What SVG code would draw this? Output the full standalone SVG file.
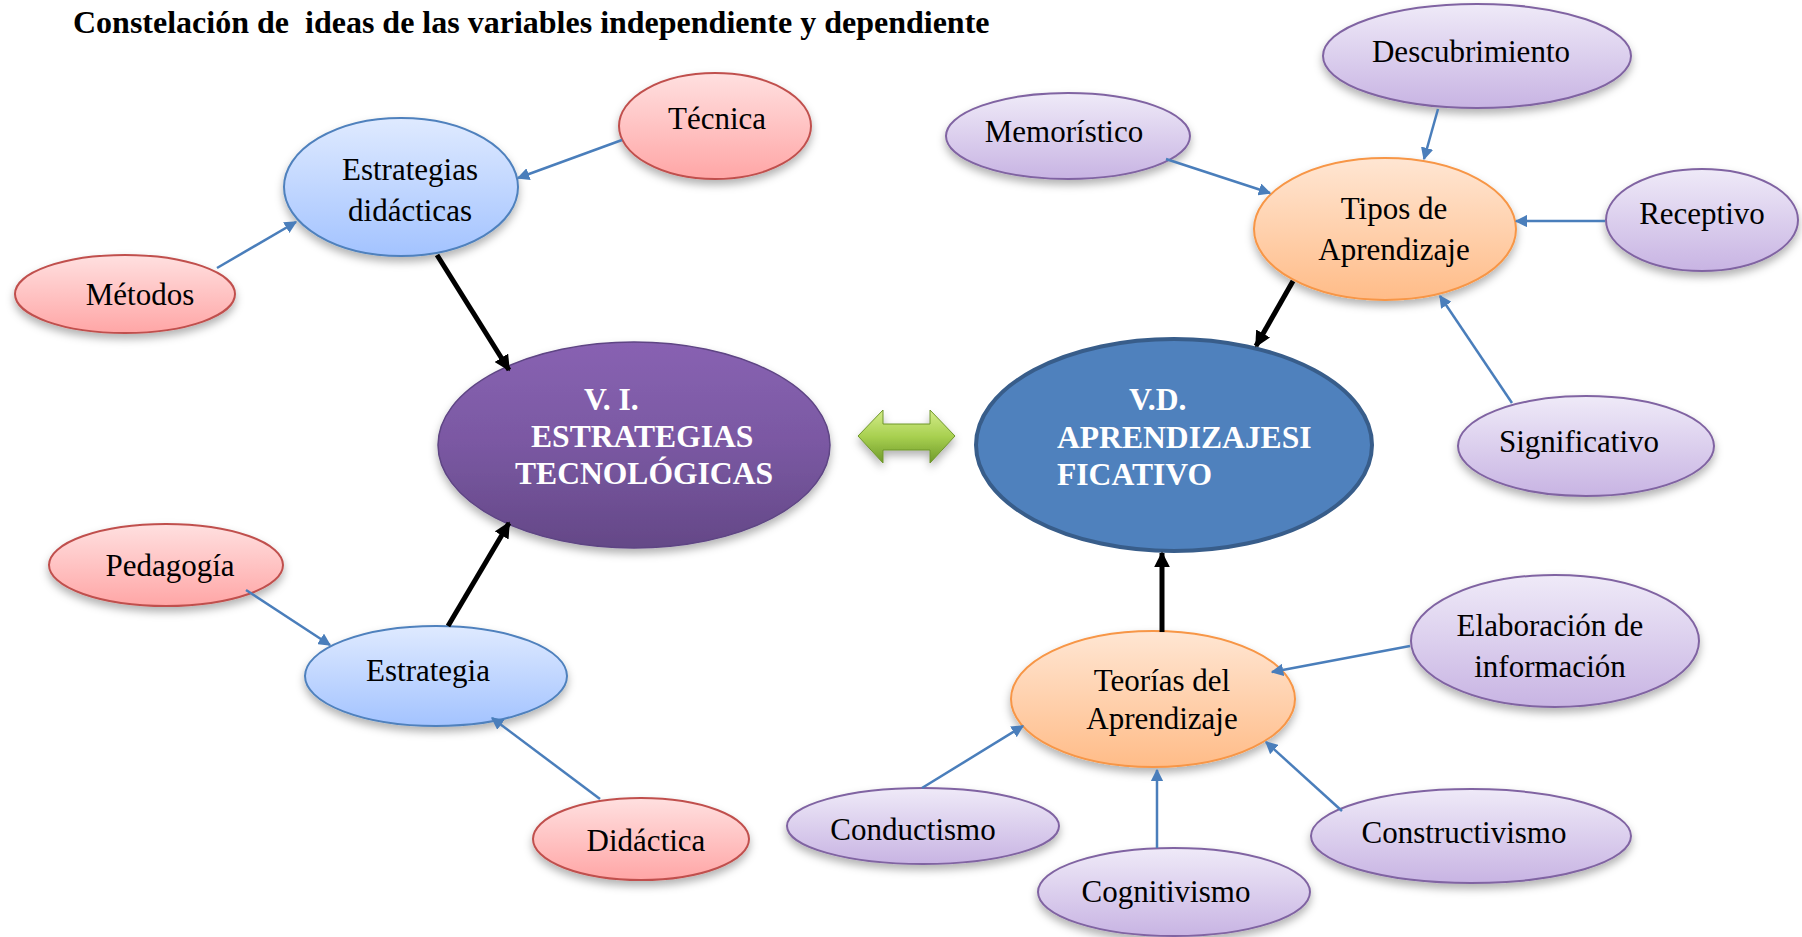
<svg xmlns="http://www.w3.org/2000/svg" width="1802" height="937" viewBox="0 0 1802 937">
<defs>
<linearGradient id="gRed" x1="0" y1="0" x2="0" y2="1"><stop offset="0" stop-color="#FFE0E0"/><stop offset="1" stop-color="#FFA6A6"/></linearGradient>
<linearGradient id="gBlue" x1="0" y1="0" x2="0" y2="1"><stop offset="0" stop-color="#DFEAFF"/><stop offset="1" stop-color="#A3C3FF"/></linearGradient>
<linearGradient id="gPur" x1="0" y1="0" x2="0" y2="1"><stop offset="0" stop-color="#EFEAF8"/><stop offset="1" stop-color="#C8B4E3"/></linearGradient>
<linearGradient id="gOr" x1="0" y1="0" x2="0" y2="1"><stop offset="0" stop-color="#FFE6D3"/><stop offset="1" stop-color="#FFBC88"/></linearGradient>
<linearGradient id="gVI" x1="0" y1="0" x2="0" y2="1"><stop offset="0" stop-color="#8862B2"/><stop offset="0.5" stop-color="#7A58A2"/><stop offset="1" stop-color="#644887"/></linearGradient>
<linearGradient id="gGreen" x1="0" y1="0" x2="0" y2="1"><stop offset="0" stop-color="#D4EC8A"/><stop offset="0.5" stop-color="#A8D050"/><stop offset="1" stop-color="#6F9A2A"/></linearGradient>
<filter id="sh" x="-20%" y="-20%" width="140%" height="150%"><feDropShadow dx="0" dy="5" stdDeviation="4" flood-color="#000" flood-opacity="0.3"/></filter>
<marker id="ab" viewBox="0 0 10 10" refX="9" refY="5" markerWidth="5" markerHeight="5" orient="auto" markerUnits="strokeWidth"><path d="M0,0 L10,5 L0,10 z" fill="#4A7EBB"/></marker>
<marker id="ak" viewBox="0 0 10 10" refX="9" refY="5" markerWidth="3.2" markerHeight="3.2" orient="auto" markerUnits="strokeWidth"><path d="M0,0 L10,5 L0,10 z" fill="#000"/></marker>
</defs>
<style>
text{font-family:"Liberation Serif","Times New Roman",serif;font-size:31px;fill:#000;text-anchor:middle}
.t{font-weight:bold;text-anchor:start;font-size:32px;white-space:pre}
.w{fill:#fff;font-weight:bold;text-anchor:start;font-size:31.6px}
.red{fill:url(#gRed);stroke:#C0504D;stroke-width:2;filter:url(#sh)}
.blue{fill:url(#gBlue);stroke:#4F81BD;stroke-width:2;filter:url(#sh)}
.pur{fill:url(#gPur);stroke:#8064A2;stroke-width:2;filter:url(#sh)}
.or{fill:url(#gOr);stroke:#F79646;stroke-width:2;filter:url(#sh)}
.bl{stroke:#4A7EBB;stroke-width:2.5;fill:none;marker-end:url(#ab)}
.bk{stroke:#000;stroke-width:5;fill:none;marker-end:url(#ak)}
</style>
<rect width="1802" height="937" fill="#fff"/>
<text class="t" x="73" y="33" xml:space="preserve">Constelación de  ideas de las variables independiente y dependiente</text>

<g id="n-tecnica"><ellipse class="red" cx="715" cy="126" rx="96" ry="53"/><text x="717" y="129">Técnica</text></g>
<g id="n-estrdid"><ellipse class="blue" cx="401" cy="187" rx="117" ry="69"/><text x="410" y="180">Estrategias</text><text x="410" y="221">didácticas</text></g>
<g id="n-metodos"><ellipse class="red" cx="125" cy="294" rx="110" ry="39"/><text x="140" y="305">Métodos</text></g>
<g id="n-vi"><ellipse cx="634" cy="445" rx="196" ry="103" fill="url(#gVI)" stroke="#5E4584" stroke-width="1.5" filter="url(#sh)"/>
<text class="w" x="584" y="410">V. I.</text><text class="w" x="531" y="447">ESTRATEGIAS</text><text class="w" x="515" y="484">TECNOLÓGICAS</text></g>
<g id="n-pedagogia"><ellipse class="red" cx="166" cy="565" rx="117" ry="41"/><text x="170" y="576">Pedagogía</text></g>
<g id="n-estrategia"><ellipse class="blue" cx="436" cy="676" rx="131" ry="50"/><text x="428" y="681">Estrategia</text></g>
<g id="n-didactica"><ellipse class="red" cx="641" cy="839" rx="108" ry="41"/><text x="646" y="851">Didáctica</text></g>

<g id="n-vd"><ellipse cx="1174" cy="445" rx="198" ry="106" fill="#4F81BD" stroke="#385D8A" stroke-width="4"/>
<text class="w" x="1129" y="410">V.D.</text><text class="w" x="1057" y="448">APRENDIZAJESI</text><text class="w" x="1057" y="485">FICATIVO</text></g>
<g id="n-tipos"><ellipse class="or" cx="1385" cy="229" rx="131" ry="71"/><text x="1394" y="219">Tipos de</text><text x="1394" y="260">Aprendizaje</text></g>
<g id="n-descub"><ellipse class="pur" cx="1477" cy="56" rx="154" ry="52"/><text x="1471" y="62">Descubrimiento</text></g>
<g id="n-memor"><ellipse class="pur" cx="1068" cy="136" rx="122" ry="43"/><text x="1064" y="142">Memorístico</text></g>
<g id="n-recep"><ellipse class="pur" cx="1702" cy="220" rx="96" ry="51"/><text x="1702" y="224">Receptivo</text></g>
<g id="n-signif"><ellipse class="pur" cx="1586" cy="446" rx="128" ry="50"/><text x="1579" y="452">Significativo</text></g>
<g id="n-teorias"><ellipse class="or" cx="1153" cy="699" rx="142" ry="68"/><text x="1162" y="691">Teorías del</text><text x="1162" y="729">Aprendizaje</text></g>
<g id="n-elab"><ellipse class="pur" cx="1555" cy="641" rx="144" ry="66"/><text x="1550" y="636">Elaboración de</text><text x="1550" y="677">información</text></g>
<g id="n-conduct"><ellipse class="pur" cx="923" cy="826" rx="136" ry="38"/><text x="913" y="840">Conductismo</text></g>
<g id="n-cognit"><ellipse class="pur" cx="1174" cy="892" rx="136" ry="44"/><text x="1166" y="902">Cognitivismo</text></g>
<g id="n-construct"><ellipse class="pur" cx="1471" cy="836" rx="160" ry="47"/><text x="1464" y="843">Constructivismo</text></g>

<g id="double-arrow" filter="url(#sh)"><path d="M858,436 L883,410 L883,424 L930,424 L930,410 L955,436 L930,463 L930,450 L883,450 L883,463 Z" fill="url(#gGreen)" stroke="#6E962A" stroke-width="1"/></g>

<g id="connectors">
<line class="bl" x1="622" y1="140" x2="518" y2="178"/>
<line class="bl" x1="217" y1="268" x2="296" y2="222"/>
<line class="bl" x1="246" y1="590" x2="330" y2="645"/>
<line class="bl" x1="600" y1="799" x2="492" y2="718"/>
<line class="bk" x1="437" y1="255" x2="509" y2="370"/>
<line class="bk" x1="448" y1="626" x2="509" y2="523"/>
<line class="bk" x1="1293" y1="281" x2="1256" y2="346"/>
<line class="bk" x1="1162" y1="632" x2="1162" y2="553"/>
<line class="bl" x1="1438" y1="109" x2="1424" y2="159"/>
<line class="bl" x1="1166" y1="159" x2="1270" y2="193"/>
<line class="bl" x1="1605" y1="221" x2="1516" y2="221"/>
<line class="bl" x1="1512" y1="403" x2="1440" y2="296"/>
<line class="bl" x1="1410" y1="646" x2="1272" y2="672"/>
<line class="bl" x1="922" y1="788" x2="1023" y2="726"/>
<line class="bl" x1="1157" y1="848" x2="1157" y2="770"/>
<line class="bl" x1="1342" y1="811" x2="1266" y2="742"/>
</g>
</svg>
